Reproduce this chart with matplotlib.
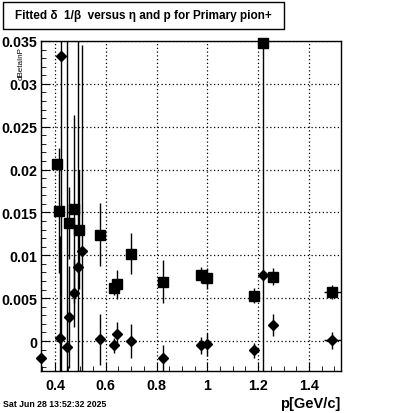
#!/usr/bin/env python3
import numpy as np
import matplotlib.pyplot as plt
from matplotlib.patches import Rectangle
from matplotlib.ticker import MultipleLocator

my_rcParams = {
    "font.family": ["Liberation Sans", "DejaVu Sans"],
    "font.size": 10,
    "xtick.direction": "in",
    "ytick.direction": "in",
    "xtick.major.size": 6.5,
    "ytick.major.size": 6.5,
    "xtick.minor.size": 3.5,
    "ytick.minor.size": 3.5,
    "xtick.major.pad": 5,
    "ytick.major.pad": 2.5,
    "axes.linewidth": 1.0,
}
plt.rcParams.update(my_rcParams)

# squares: momentum, value, error (y), error (x)
sq_p = [0.408, 0.417, 0.456, 0.476, 0.494, 0.577, 0.632, 0.643, 0.699,
        0.826, 0.975, 1.000, 1.185, 1.220, 1.260, 1.492]
sq_val = [0.0206, 0.0152, 0.0138, 0.0154, 0.0130, 0.0124, 0.0062, 0.0066, 0.0102,
          0.0069, 0.0077, 0.0073, 0.0053, 0.0348, 0.0075, 0.0057]
sq_err = [0.0005, 0.0073, 0.0042, 0.0110, 0.0069, 0.0037, 0.0008, 0.0017, 0.0024,
          0.0025, 0.0009, 0.0012, 0.0009, 0.0600, 0.0010, 0.0008]
sq_perr = [0, 0, 0, 0, 0, 0, 0, 0, 0, 0, 0, 0, 0, 0, 0.01, 0.033]

# diamonds
dm_p = [0.345, 0.420, 0.424, 0.446, 0.456, 0.476, 0.489, 0.508, 0.577, 0.632,
        0.643, 0.699, 0.826, 0.975, 1.000, 1.185, 1.220, 1.260, 1.492]
dm_val = [-0.0020, 0.0003, 0.0333, -0.0007, 0.0028, 0.0056, 0.0086, 0.0105, 0.0002, -0.0005,
          0.0008, 0.0000, -0.0020, -0.0005, -0.0004, -0.0011, 0.0077, 0.0019, 0.0001]
dm_err = [0.0005, 0.0120, 0.0600, 0.0600, 0.0060, 0.0040, 0.0600, 0.0240, 0.0030, 0.0009,
          0.0014, 0.0020, 0.0015, 0.0010, 0.0013, 0.0009, 0.0003, 0.0013, 0.0010]
dm_perr = [0, 0, 0, 0, 0, 0, 0, 0, 0, 0, 0, 0, 0, 0, 0, 0, 0.021, 0, 0.033]

x_ticks = [0.4, 0.6, 0.8, 1.0, 1.2, 1.4]
x_labels = ["0.4", "0.6", "0.8", "1", "1.2", "1.4"]
y_ticks = [0, 0.005, 0.01, 0.015, 0.02, 0.025, 0.03, 0.035]
y_labels = ["0", "0.005", "0.01", "0.015", "0.02", "0.025", "0.03", "0.035"]


def main():
    fig = plt.figure(figsize=(4.0, 4.14), dpi=100)
    ax = fig.add_axes([0.1025, 0.1014, 0.75, 0.7972])

    for p, v, e, pe, mk, ms in [
        (sq_p, sq_val, sq_err, sq_perr, "s", 6.5),
        (dm_p, dm_val, dm_err, dm_perr, "D", 5.3),
    ]:
        ax.errorbar(p, v, yerr=e, xerr=pe, fmt="none", ecolor="black",
                    elinewidth=1.0, capsize=0)
        ax.plot(p, v, linestyle="none", marker=mk, markersize=ms,
                color="black", clip_on=False, zorder=5)

    ax.set_xlim(0.345, 1.526)
    ax.set_ylim(-0.0035, 0.035)
    ax.set_xticks(x_ticks)
    ax.set_xticklabels(x_labels, fontweight="bold", fontsize=10.3)
    ax.set_yticks(y_ticks)
    ax.set_yticklabels(y_labels, fontweight="bold", fontsize=10.3)
    ax.xaxis.set_minor_locator(MultipleLocator(0.05))
    ax.yaxis.set_minor_locator(MultipleLocator(0.001))
    ax.tick_params(which="both", top=False, right=False)
    ax.grid(True, which="major", color="black", linestyle=(0, (1, 2)), linewidth=0.9)

    # title box
    fig.patches.append(Rectangle((3 / 400, 1 - 30 / 414), 281 / 400, 27 / 414,
                                 transform=fig.transFigure, fill=False,
                                 edgecolor="black", linewidth=1.0))
    fig.text(143.5 / 400, 1 - 16.5 / 414,
             "Fitted \u03b4  1/\u03b2  versus \u03b7 and p for Primary pion+",
             ha="center", va="center", fontsize=8.5, fontweight="bold")

    fig.text(21 / 400, 1 - 47 / 414, "dBetaInP", rotation=90, ha="center",
             va="top", fontsize=5.8)
    fig.text(340 / 400, 1 - 404 / 414, "p[GeV/c]", ha="right", va="center",
             fontsize=10.5, fontweight="bold")
    fig.text(3 / 400, 1 - 405 / 414, "Sat Jun 28 13:52:32 2025", ha="left",
             va="center", fontsize=6.3, fontweight="bold")

    fig.savefig("out.png", dpi=100)


if __name__ == "__main__":
    main()
